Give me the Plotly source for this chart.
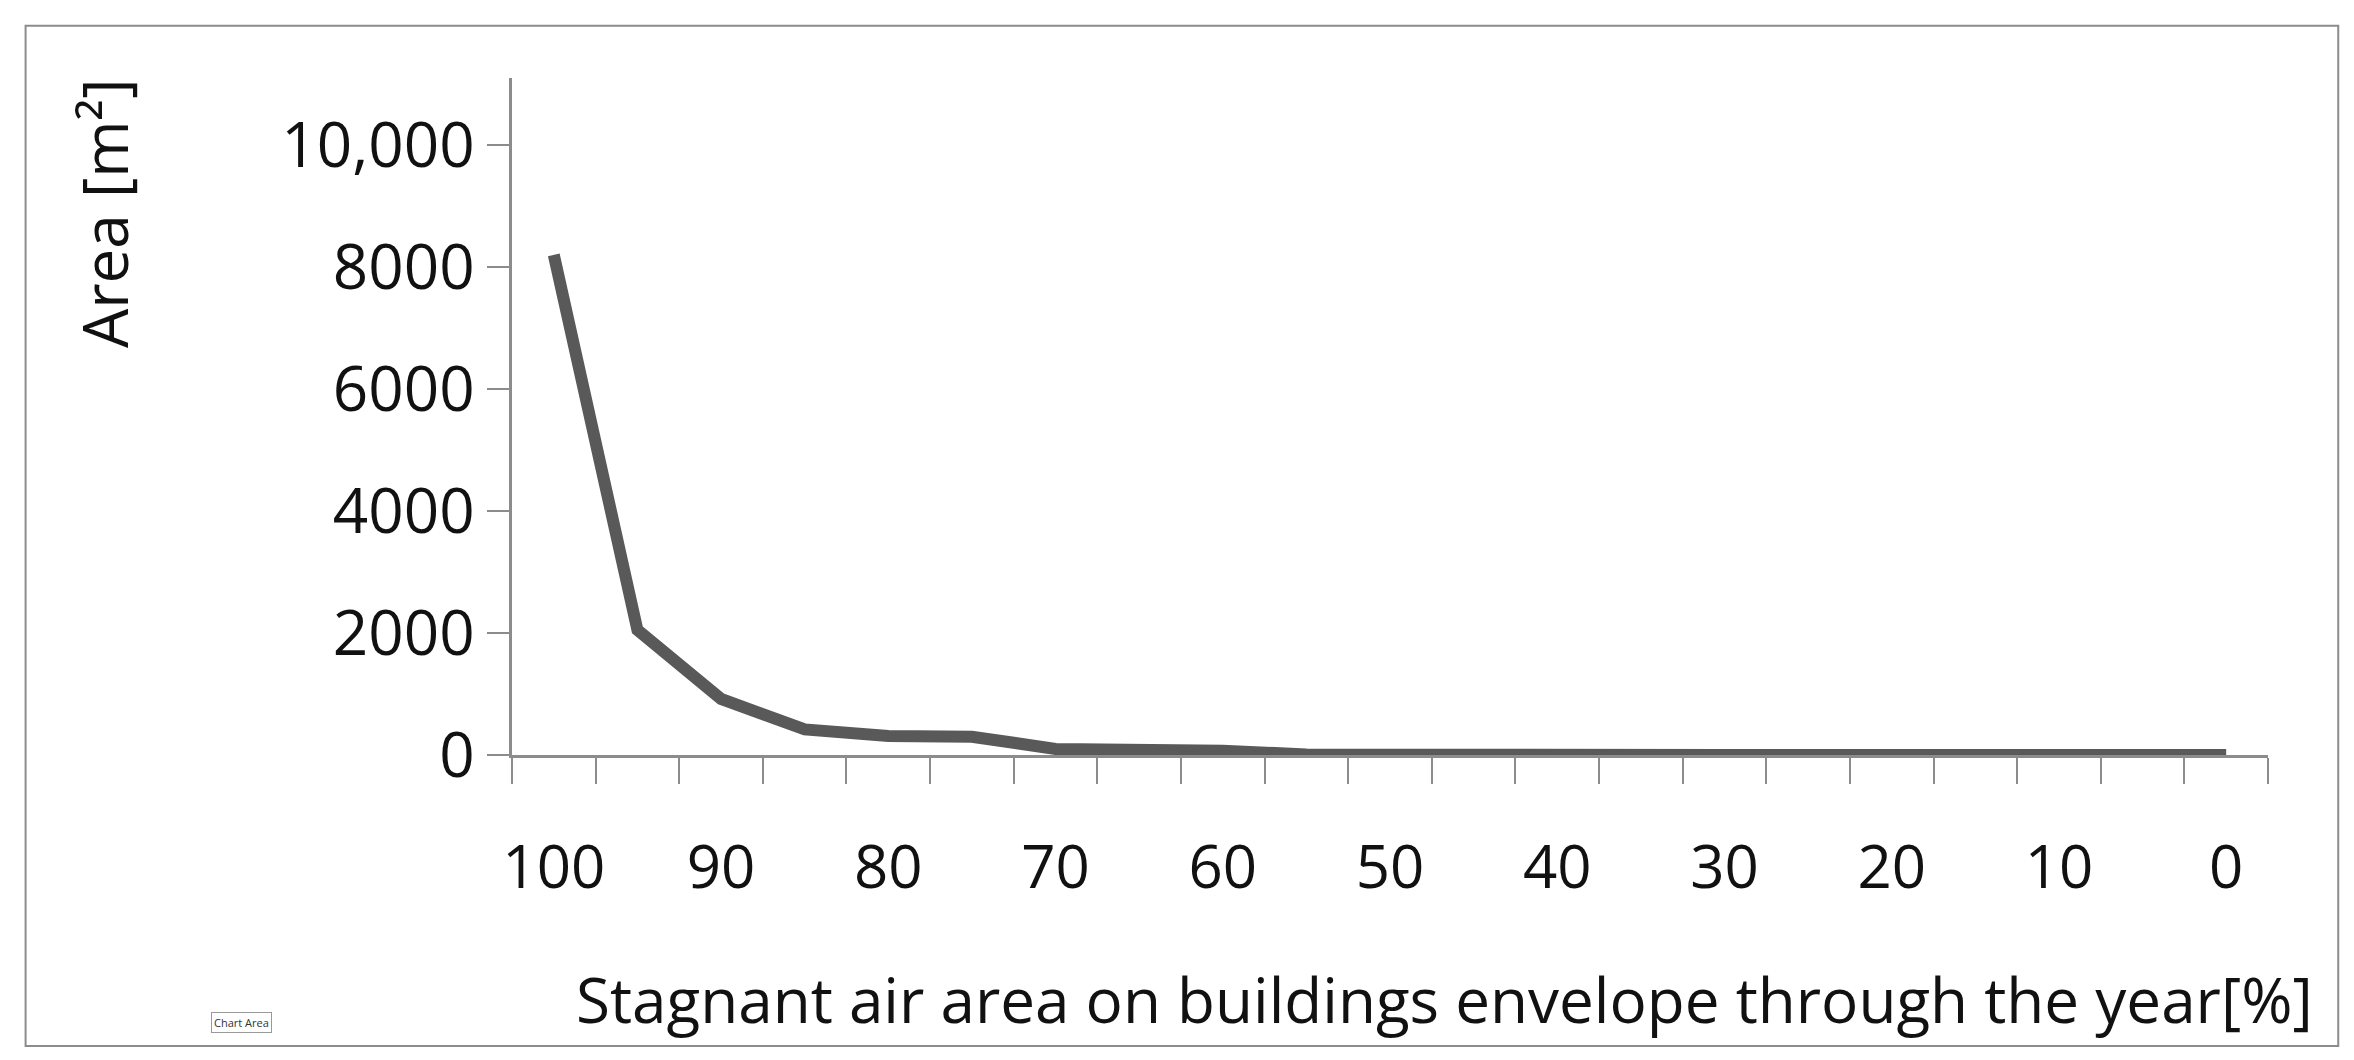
import plotly.graph_objects as go

categories = [100, 95, 90, 85, 80, 75, 70, 65, 60, 55, 50, 45, 40, 35, 30, 25, 20, 15, 10, 5, 0]
area = [8200, 2050, 920, 420, 310, 300, 100, 90, 70, 10, 0, 0, 0, 0, 0, 0, 0, 0, 0, 0, 0]
y_ticks = [0, 2000, 4000, 6000, 8000, 10000]
y_labels = ["0", "2000", "4000", "6000", "8000", "10,000"]

idx = list(range(len(categories)))
font = "Open Sans, Liberation Sans, sans-serif"

fig = go.Figure(go.Scatter(
    x=idx, y=area, mode="lines",
    line=dict(color="#595959", width=12),
))

fig.update_xaxes(
    range=[-0.5, len(categories) - 0.5],
    tickvals=idx[::2], ticktext=[str(c) for c in categories[::2]],
    ticks="outside", ticklen=0, ticklabelstandoff=58,
    minor=dict(tickmode="linear", tick0=-0.5, dtick=1, ticks="outside", ticklen=26, tickcolor="#8c8c8c", tickwidth=2),
    showline=True, linecolor="#8c8c8c", linewidth=3,
    showgrid=False, zeroline=False,
    tickfont=dict(family=font, size=60, color="#111"),
)
fig.update_yaxes(
    range=[0, 11100],
    tickvals=y_ticks, ticktext=y_labels,
    ticks="outside", ticklen=22, tickcolor="#8c8c8c", tickwidth=2,
    showline=True, linecolor="#8c8c8c", linewidth=3,
    showgrid=False, zeroline=False,
    tickfont=dict(family=font, size=62, color="#111"),
)

fig.add_shape(type="rect", xref="paper", yref="paper", x0=-0.277, x1=1.04, y0=-0.43, y1=1.077,
              line=dict(color="#8c8c8c", width=2))
fig.add_annotation(text="Stagnant air area on buildings envelope through the year[%]",
                   xref="paper", yref="paper", x=1.027, y=-0.36, xanchor="right", yanchor="middle",
                   showarrow=False, font=dict(family=font, size=62, color="#111"))
fig.add_annotation(text="Area [m²]", xref="paper", yref="paper", x=-0.232, y=0.8,
                   xanchor="center", yanchor="middle", textangle=-90,
                   showarrow=False, font=dict(family=font, size=62, color="#111"))
fig.add_annotation(text="Chart Area", xref="paper", yref="paper", x=-0.154, y=-0.395,
                   xanchor="center", yanchor="middle", showarrow=False,
                   bordercolor="#999", borderwidth=1, borderpad=2,
                   font=dict(family=font, size=11, color="#333"))

fig.update_layout(
    width=2354, height=1060,
    margin=dict(l=504, r=94, t=70, b=313),
    plot_bgcolor="white", paper_bgcolor="white",
    showlegend=False,
)

fig.write_html("out.html")
